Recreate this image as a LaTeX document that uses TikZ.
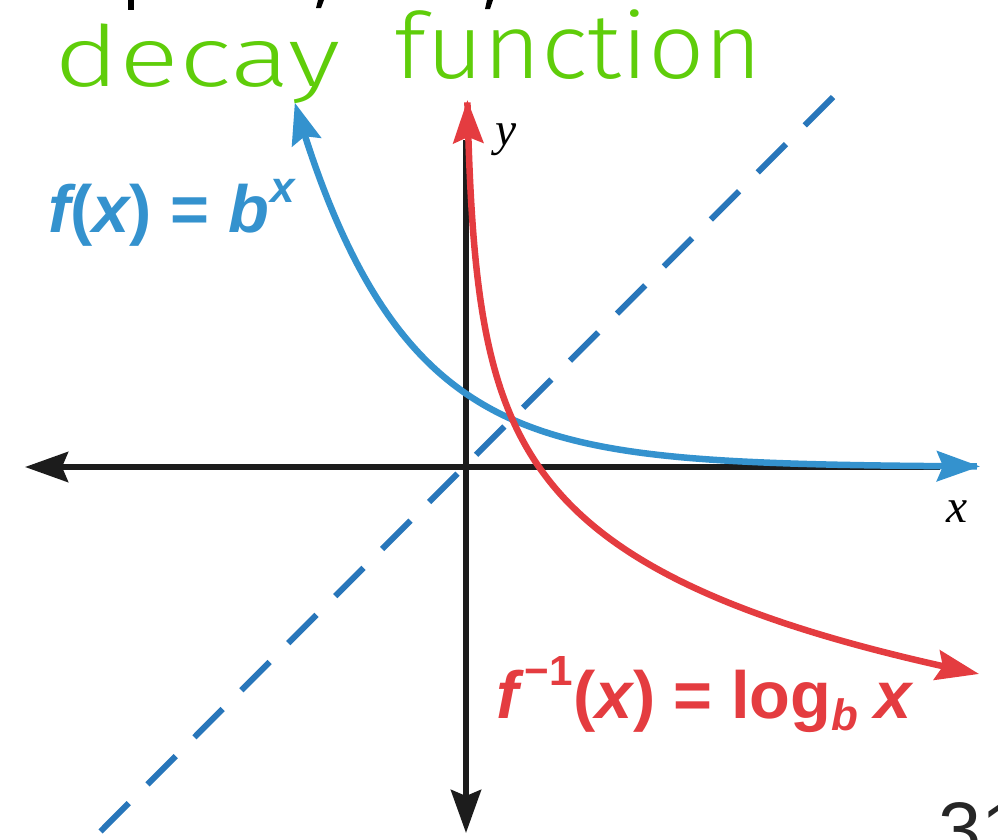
\documentclass[tikz,border=0pt]{standalone}
\usepackage{fontspec}
\usepackage{graphicx}
\setmainfont{Liberation Serif}
\newfontfamily\lib{Liberation Sans}
\newfontfamily\hand{Fira Sans Light}
\usetikzlibrary{arrows.meta}
\definecolor{fblue}{RGB}{52,146,206}
\definecolor{fred}{RGB}{228,60,64}
\definecolor{dblue}{RGB}{40,118,186}
\definecolor{hgreen}{RGB}{95,205,10}
\definecolor{axisk}{RGB}{28,28,28}
\begin{document}
\begin{tikzpicture}[x=0.02cm,y=-0.02cm,
  axisline/.style={axisk,line width=0.12cm},
  curve/.style={line width=0.13cm},
  formula/.style={inner sep=0pt,anchor=base west,font=\lib\bfseries\fontsize{38}{40}\selectfont},
  axlabel/.style={inner sep=0pt,font=\fontsize{27}{28}\selectfont\itshape}]
\useasboundingbox (0,0) rectangle (998,839);
\clip (0,0) rectangle (998,839);
% coordinates
\coordinate (xl) at (25,467);
\coordinate (xr) at (940,467);
\coordinate (yt) at (466,140);
\coordinate (yb) at (466,833);
\coordinate (dtop) at (833,97);
\coordinate (dbot) at (97,835);
% fragments of cut-off title
\fill[black] (128,0) rectangle (134,10);
\fill[black] (318,0) -- (324,0) -- (321,8) -- (316,8) -- cycle;
\fill[black] (487,0) -- (493,0) -- (490,9) -- (485,9) -- cycle;
% dashed y=x
\draw[dblue,line width=0.12cm,dash pattern=on 0.8cm off 0.53cm] (dtop) -- (dbot);
% axes
\draw[axisline,{Stealth[length=0.86cm,width=0.6cm,inset=0.12cm]}-] (xl) -- (xr);
\draw[axisline,-{Stealth[length=0.86cm,width=0.6cm,inset=0.12cm]}] (yt) -- (yb);
% f(x) = (1/2)^x
\draw[fblue,curve,{Stealth[length=0.82cm,width=0.6cm,inset=0.12cm]}-{Stealth[length=0.86cm,width=0.6cm,inset=0.12cm]}]
  plot[domain=-2.3:6.96,samples=220] ({465+74*\x},{467-74*pow(2,-\x)});
% inverse
\draw[fred,curve,{Stealth[length=0.86cm,width=0.6cm,inset=0.12cm]}-{Stealth[length=0.86cm,width=0.6cm,inset=0.12cm]}]
  plot[domain=4.96:-2.8,samples=240] ({465+74*pow(2,-\x)},{467-74*\x});
% labels
\node[formula,text=fblue] (fl) at (48,232)
  {\itshape f\upshape(\itshape x\upshape) = \itshape b\kern0.03cm\raisebox{0.6cm}{\fontsize{25}{25}\selectfont x}};
\node[formula,text=fred] (gl) at (496,718)
  {\itshape f\upshape\kern0.12cm\raisebox{0.66cm}{\fontsize{24}{24}\selectfont −1}\kern0.02cm(\itshape x\upshape) = log\raisebox{-0.24cm}{\fontsize{25}{25}\selectfont\itshape b}\kern0.32cm\itshape x};
\node[axlabel] (ylab) at (506,140) {y};
\node[axlabel] (xlab) at (957,512) {x};
\node[inner sep=0pt,anchor=base west,text=black!85,font=\lib\fontsize{44}{44}\selectfont] (pg) at (938,856) {31};
% handwritten note
\node[inner sep=0pt,anchor=base west,text=hgreen,font=\hand\fontsize{48}{48}\selectfont] (hw1) at (54,86)
  {\resizebox{5.72cm}{\height}{decay}};
\node[inner sep=0pt,anchor=base west,text=hgreen,font=\hand\fontsize{52}{52}\selectfont] (hw2) at (394,78)
  {\resizebox{7.36cm}{\height}{function}};
\end{tikzpicture}
\end{document}
